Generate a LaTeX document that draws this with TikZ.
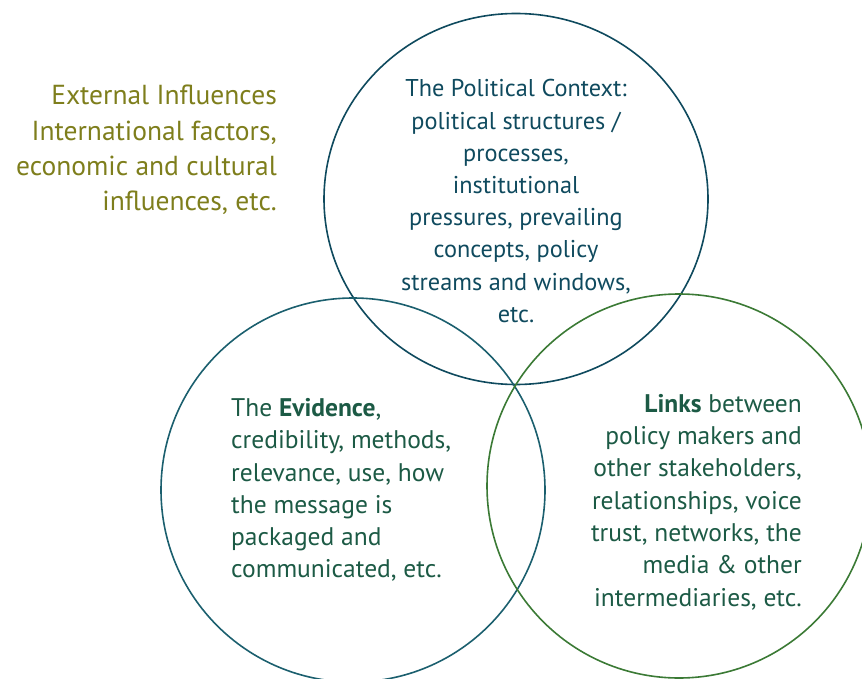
\documentclass[tikz,border=0pt]{standalone}
\usepackage{fontspec}
\setmainfont{PT Sans}
\definecolor{topblue}{HTML}{0F4A5E}
\definecolor{tealline}{HTML}{1B5F6E}
\definecolor{greenline}{HTML}{3B7A35}
\definecolor{greentext}{HTML}{1C5A45}
\definecolor{olive}{HTML}{7E7E1C}
\begin{document}
\begin{tikzpicture}[x=1pt,y=-1pt,
  ring/.style={line width=1.6pt},
  txt/.style={inner sep=0pt, font=\fontsize{25.5}{32.3}\selectfont}]
\useasboundingbox (0,0) rectangle (862,679);
\draw[ring, topblue] (516,199) ellipse [x radius=192, y radius=185.5];
\draw[ring, tealline] (353,490) circle [radius=192];
\draw[ring, greenline] (679,486) circle [radius=192];
\node[txt, text=topblue, align=center, font=\fontsize{24.3}{32.2}\selectfont] (pol) at (516,201)
  {The Political Context:\\political structures /\\processes,\\institutional\\pressures, prevailing\\concepts, policy\\streams and windows,\\etc.};
\node[txt, text=greentext, align=left, anchor=west] (evi) at (231,490)
  {The \textbf{Evidence},\\credibility, methods,\\relevance, use, how\\the message is\\packaged and\\communicated, etc.};
\node[txt, text=greentext, align=right, anchor=east] (lnk) at (802,502)
  {\textbf{Links} between\\policy makers and\\other stakeholders,\\relationships, voice\\trust, networks, the\\media \& other\\intermediaries, etc.};
\node[txt, text=olive, align=right, anchor=east, font=\fontsize{27.5}{35.3}\selectfont] (ext) at (277,150)
  {External Influences\\International factors,\\economic and cultural\\influences, etc.};
\end{tikzpicture}
\end{document}
